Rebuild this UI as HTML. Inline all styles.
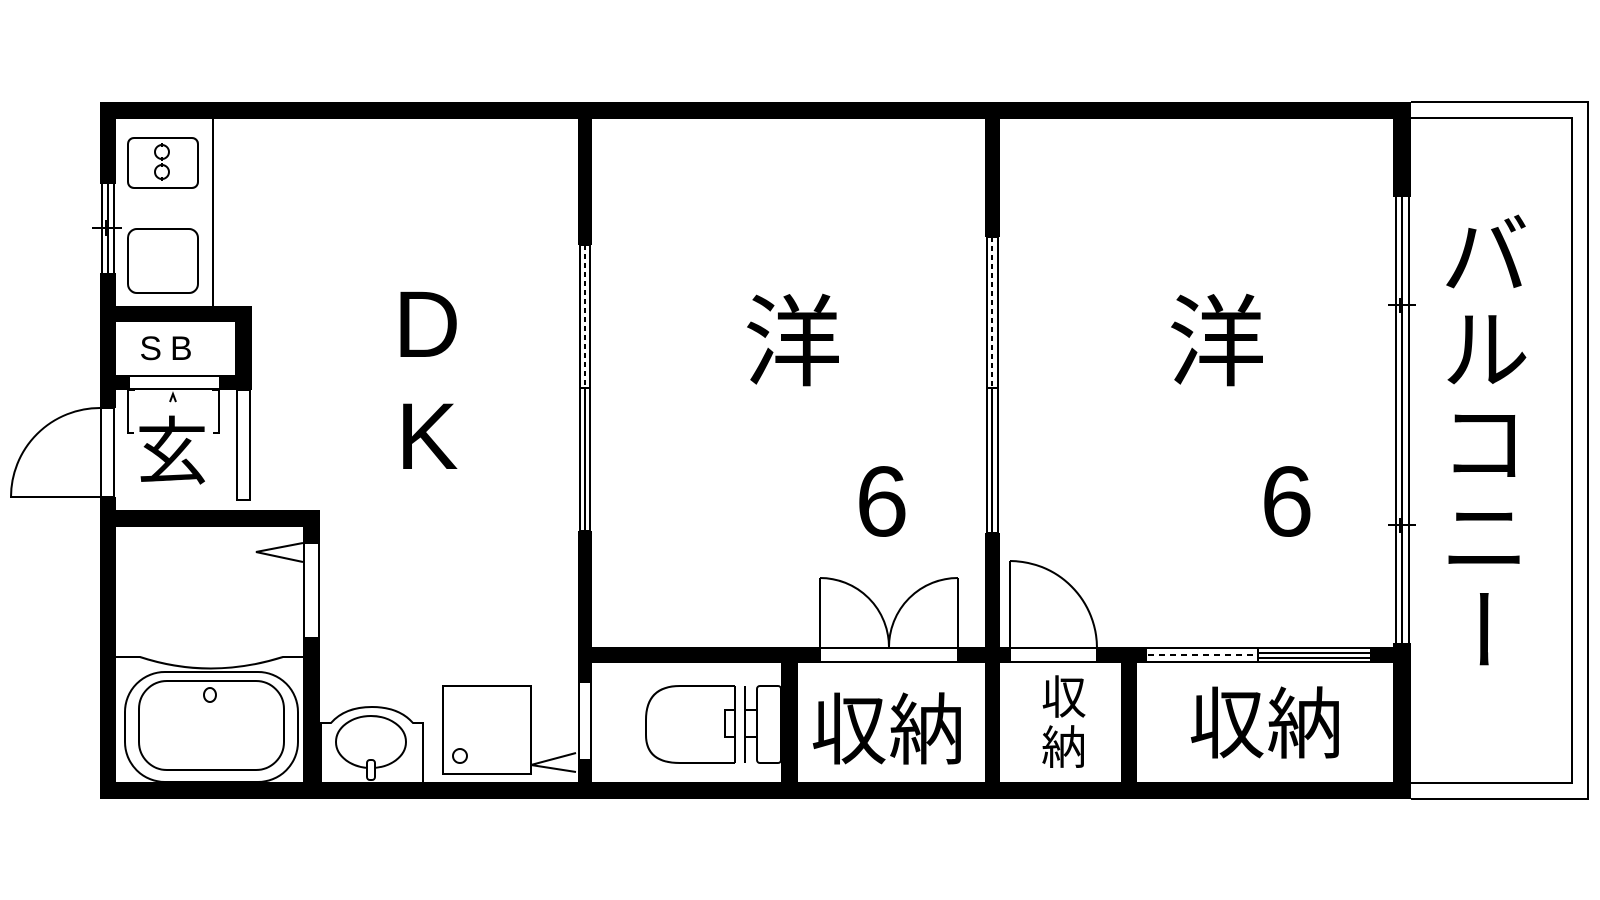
<!DOCTYPE html>
<html><head><meta charset="utf-8"><style>
html,body{margin:0;padding:0;background:#fff;}
svg{display:block;}
text{font-family:"Liberation Sans","Noto Sans CJK JP",sans-serif;fill:#000;}
.j{font-family:"Noto Sans CJK JP","Liberation Sans",sans-serif;}
</style></head><body>
<svg width="1600" height="900" viewBox="0 0 1600 900" xmlns="http://www.w3.org/2000/svg">
<g fill="#000">
<!-- outer walls -->
<rect x="100" y="102" width="1311" height="17"/>
<rect x="100" y="782" width="1311" height="17"/>
<rect x="100" y="102" width="16" height="82"/>
<rect x="100" y="273" width="16" height="135"/>
<rect x="100" y="497" width="16" height="302"/>
<rect x="1393" y="102" width="18" height="95"/>
<rect x="1393" y="643" width="18" height="156"/>
<!-- SB box -->
<rect x="100" y="306" width="152" height="16"/>
<rect x="235" y="306" width="17" height="84"/>
<rect x="100" y="375" width="29" height="15"/>
<rect x="220" y="375" width="32" height="15"/>
<!-- bath walls -->
<rect x="100" y="510" width="220" height="17"/>
<rect x="303" y="510" width="17" height="33"/>
<rect x="303" y="638" width="17" height="161"/>
<!-- DK / room wall -->
<rect x="578" y="102" width="14" height="143"/>
<rect x="578" y="531" width="14" height="151"/>
<rect x="578" y="760" width="14" height="39"/>
<!-- horizontal wall -->
<rect x="578" y="647" width="242" height="16"/>
<rect x="958" y="647" width="52" height="16"/>
<rect x="1097" y="647" width="49" height="16"/>
<rect x="1371" y="647" width="40" height="16"/>
<!-- room divider -->
<rect x="985" y="102" width="15" height="135"/>
<rect x="985" y="533" width="15" height="266"/>
<!-- storage dividers -->
<rect x="781" y="647" width="17" height="152"/>
<rect x="1121" y="647" width="16" height="152"/>
</g>
<g fill="none" stroke="#000" stroke-width="2">
<!-- balcony -->
<polyline points="1411,102 1588,102 1588,799 1411,799"/>
<polyline points="1411,118 1572,118 1572,783 1411,783"/>
<!-- right window -->
<line x1="1396" y1="197" x2="1396" y2="643"/>
<line x1="1402" y1="197" x2="1402" y2="643"/>
<line x1="1409" y1="197" x2="1409" y2="643"/>
<line x1="1388" y1="305" x2="1416" y2="305"/>
<line x1="1400" y1="298" x2="1400" y2="313"/>
<line x1="1388" y1="525" x2="1416" y2="525"/>
<line x1="1400" y1="518" x2="1400" y2="533"/>
<!-- left window -->
<line x1="102" y1="184" x2="102" y2="273"/>
<line x1="108" y1="184" x2="108" y2="273"/>
<line x1="114" y1="184" x2="114" y2="273"/>
<line x1="92" y1="228" x2="122" y2="228"/>
<line x1="106" y1="220" x2="106" y2="236"/>
<!-- kitchen -->
<line x1="213" y1="119" x2="213" y2="306"/>
<rect x="128" y="138" width="70" height="50" rx="6"/>
<circle cx="162" cy="152" r="7"/><circle cx="162" cy="172" r="7"/>
<line x1="162" y1="143" x2="162" y2="147"/><line x1="162" y1="157" x2="162" y2="161"/>
<line x1="162" y1="163" x2="162" y2="167"/><line x1="162" y1="177" x2="162" y2="181"/>
<rect x="128" y="229" width="70" height="64" rx="9"/>
<!-- SB opening panel -->
<rect x="129" y="376" width="91" height="13"/>
<!-- entrance -->
<rect x="101" y="408" width="13" height="89"/>
<path d="M100 408 A89 89 0 0 0 11 497 L100 497"/>
<rect x="237" y="390" width="13" height="110"/>
<polyline points="135,390 128,390 128,433 134,433"/>
<polyline points="212,390 219,390 219,433 213,433"/>
<polyline points="170,402 173,394 176,402"/>
<!-- bath -->
<rect x="304" y="543" width="15" height="95"/>
<polyline points="303,543 256,552 303,562"/>
<path d="M116 657 L140 657 Q210 680 283 657 L303 657"/>
<rect x="125" y="672" width="173" height="110" rx="40"/>
<rect x="139" y="681" width="145" height="89" rx="28"/>
<ellipse cx="210" cy="695" rx="6" ry="7"/>
<!-- washbasin -->
<path d="M321 782 L321 723 L331 723 Q345 707 372 707 Q399 707 413 723 L423 723 L423 782"/>
<ellipse cx="371" cy="742" rx="35" ry="26"/>
<rect x="367" y="760" width="8" height="20" rx="3" fill="#fff"/>
<!-- washer -->
<rect x="443" y="686" width="88" height="88"/>
<circle cx="460" cy="756" r="7"/>
<polyline points="576,753 531,765 576,772"/>
<rect x="579" y="682" width="12" height="78"/>
<!-- toilet -->
<path d="M735 686 L680 686 Q646 686 646 720 L646 735 Q646 763 680 763 L735 763"/>
<line x1="735" y1="686" x2="735" y2="763"/>
<line x1="745" y1="686" x2="745" y2="763"/>
<polyline points="735,710 725,710 725,737 735,737"/>
<rect x="757" y="686" width="24" height="77" rx="3"/>
<line x1="745" y1="710" x2="757" y2="710"/>
<line x1="745" y1="737" x2="757" y2="737"/>
<!-- room windows -->
<rect x="580" y="245" width="10" height="143"/>
<line x1="585" y1="245" x2="585" y2="388" stroke-dasharray="5,4"/>
<rect x="580" y="388" width="10" height="143"/>
<line x1="585" y1="388" x2="585" y2="531"/>
<rect x="987" y="237" width="11" height="151"/>
<line x1="992" y1="237" x2="992" y2="388" stroke-dasharray="5,4"/>
<rect x="987" y="388" width="11" height="145"/>
<line x1="992" y1="388" x2="992" y2="533"/>
<!-- double door -->
<rect x="820" y="648" width="138" height="14"/>
<line x1="820" y1="578" x2="820" y2="648"/>
<path d="M820 578 A69 69 0 0 1 889 647"/>
<line x1="958" y1="578" x2="958" y2="648"/>
<path d="M958 578 A69 69 0 0 0 889 647"/>
<!-- single door -->
<rect x="1010" y="648" width="87" height="14"/>
<line x1="1010" y1="561" x2="1010" y2="648"/>
<path d="M1010 561 A87 87 0 0 1 1097 648"/>
<!-- sliding -->
<rect x="1146" y="648" width="225" height="14"/>
<line x1="1258" y1="648" x2="1258" y2="662"/>
<line x1="1148" y1="655" x2="1256" y2="655" stroke-dasharray="6,5"/>
<line x1="1258" y1="653" x2="1371" y2="653"/>
<line x1="1258" y1="658" x2="1371" y2="658"/>
</g>
<!-- labels -->
<text x="170" y="360" font-size="34" text-anchor="middle" letter-spacing="8">SB</text>
<text class="j" x="172" y="478" font-size="74" text-anchor="middle">玄</text>
<text x="427" y="357" font-size="95" text-anchor="middle">D</text>
<text x="427" y="469" font-size="95" text-anchor="middle">K</text>
<text class="j" x="793" y="378" font-size="100" text-anchor="middle">洋</text>
<text x="882" y="536" font-size="100" text-anchor="middle">6</text>
<text class="j" x="1217" y="378" font-size="100" text-anchor="middle">洋</text>
<text x="1287" y="536" font-size="100" text-anchor="middle">6</text>
<text class="j" x="888" y="758" font-size="78" text-anchor="middle">収納</text>
<text class="j" x="1064" y="714" font-size="46" text-anchor="middle">収</text>
<text class="j" x="1064" y="764" font-size="46" text-anchor="middle">納</text>
<text class="j" x="1266" y="752" font-size="78" text-anchor="middle">収納</text>
<text class="j" x="1485" y="208" font-size="92" writing-mode="vertical-rl" style="writing-mode:vertical-rl" letter-spacing="2">バルコニー</text>
</svg>
</body></html>
